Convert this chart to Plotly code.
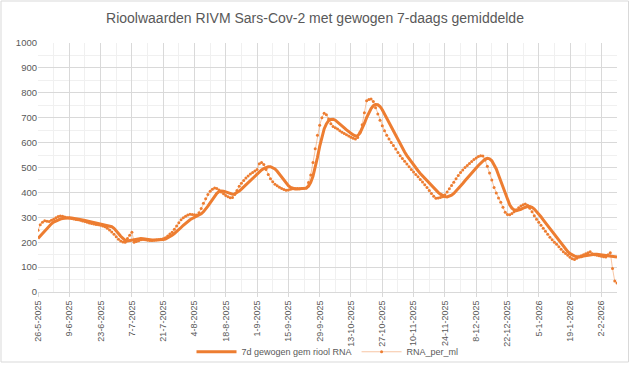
import datetime as dt
import plotly.graph_objects as go

start_date = "2025-05-26"

rna_per_ml = [
    248, 270, 280, 286, 284, 283, 288, 292, 298, 303, 305, 304, 301, 298, 297, 295, 293, 291, 290, 288,
    285, 283, 280, 277, 275, 273, 271, 270, 268, 265, 262, 256, 249, 241, 232, 222, 212, 205, 201, 200,
    215, 228, 240, 200, 203, 206, 210, 211, 210, 208, 207, 207, 208, 209, 210, 212, 214, 218, 225, 233,
    240, 252, 265, 278, 290, 298, 304, 309, 312, 311, 310, 309, 318, 335, 356, 375, 392, 405, 413, 418,
    416, 410, 402, 395, 388, 383, 379, 380, 392, 408, 425, 437, 448, 458, 466, 474, 480, 486, 492, 515,
    520, 512, 492, 472, 455, 443, 433, 427, 421, 416, 412, 409, 410, 413, 415, 416, 416, 415, 416, 417,
    418, 440, 470, 520, 575, 630, 670, 700, 718, 712, 695, 676, 665, 660, 655, 648, 642, 637, 632, 627,
    621, 617, 614, 620, 642, 672, 720, 768, 773, 775, 765, 740, 715, 690, 668, 648, 630, 614, 600, 588,
    574, 560, 547, 536, 525, 514, 503, 492, 482, 472, 463, 452, 442, 431, 420, 408, 396, 385, 377, 378,
    380, 383, 390, 402, 415, 428, 441, 455, 468, 480, 490, 500, 508, 516, 524, 532, 538, 544, 547, 546,
    530, 505, 478, 450, 420, 398, 378, 360, 340, 320, 311, 310, 315, 322, 330, 338, 345, 350, 353, 348,
    336, 322, 306, 292, 280, 268, 256, 244, 232, 220, 210, 200, 192, 182, 172, 162, 155, 148, 140, 134,
    131, 136, 141, 146, 150, 154, 158, 162, 154, 150, 148, 146, 144, 142, 141, 150, 158, 94, 44, 36,
]

gewogen_7d = [
    215, 225, 236, 247, 257, 266, 274, 281, 286, 290, 293, 295, 297, 298, 298, 297, 296, 295, 293, 291,
    289, 287, 285, 283, 281, 279, 277, 275, 273, 271, 270, 268, 266, 262, 256, 247, 235, 224, 214, 207,
    205, 207, 210, 212, 214, 215, 215, 214, 212, 210, 209, 209, 209, 209, 209, 210, 211, 213, 217, 222,
    228, 235, 242, 250, 259, 268, 276, 284, 290, 295, 299, 303, 308, 314, 322, 332, 345, 358, 372, 385,
    396, 403, 406, 405, 402, 398, 395, 393, 394, 398, 405, 413, 422, 431, 440, 449, 458, 467, 475, 483,
    490, 496, 500, 503, 503, 500, 494, 485, 473, 460, 447, 436, 427, 420, 416, 414, 414, 414, 414, 415,
    417, 425, 440, 465, 500, 540, 585, 625, 655, 675, 688, 693, 694, 690, 683, 675, 667, 659, 651, 644,
    637, 631, 627, 628, 638, 655, 677, 700, 720, 737, 748, 753, 752, 745, 732, 715, 697, 678, 660, 642,
    625, 608, 592, 577, 562, 548, 535, 522, 510, 498, 487, 476, 466, 456, 446, 436, 426, 417, 408, 400,
    393, 387, 383, 382, 384, 389, 396, 405, 415, 425, 436, 447, 458, 468, 478, 488, 498, 508, 518, 527,
    534, 537, 535, 527, 513, 494, 470, 445, 418, 392, 368, 350, 337, 330, 327, 328, 332, 337, 341, 343,
    343, 340, 333, 324, 313, 302, 290, 278, 266, 254, 242, 230, 218, 206, 194, 183, 172, 162, 154, 148,
    144, 142, 141, 142, 144, 146, 148, 150, 151, 152, 152, 151, 150, 149, 148, 147, 146, 144, 142, 140,
]

tick_dates = [
    "2025-05-26", "2025-06-09", "2025-06-23", "2025-07-07", "2025-07-21", "2025-08-04",
    "2025-08-18", "2025-09-01", "2025-09-15", "2025-09-29", "2025-10-13", "2025-10-27",
    "2025-11-10", "2025-11-24", "2025-12-08", "2025-12-22", "2026-01-05", "2026-01-19",
    "2026-02-02",
]
tick_labels = [
    "26-5-2025", "9-6-2025", "23-6-2025", "7-7-2025", "21-7-2025", "4-8-2025",
    "18-8-2025", "1-9-2025", "15-9-2025", "29-9-2025", "13-10-2025", "27-10-2025",
    "10-11-2025", "24-11-2025", "8-12-2025", "22-12-2025", "5-1-2026", "19-1-2026",
    "2-2-2026",
]

d0 = dt.date.fromisoformat(start_date)
dates = [d0 + dt.timedelta(days=i) for i in range(len(gewogen_7d))]

ORANGE = "#ED7D31"
TXT = "#595959"
FONT = "Liberation Sans"

fig = go.Figure()
fig.add_trace(go.Scatter(
    x=dates, y=gewogen_7d, mode="lines", name="7d gewogen gem riool RNA",
    line=dict(color=ORANGE, width=3), hoverinfo="x+y",
))
fig.add_trace(go.Scatter(
    x=dates, y=rna_per_ml, mode="lines+markers", name="RNA_per_ml",
    line=dict(color="rgba(237,125,49,0.55)", width=0.8),
    marker=dict(color=ORANGE, size=3),
))

fig.update_layout(
    width=630, height=365,
    margin=dict(l=38, r=13, t=43, b=73, autoexpand=False),
    paper_bgcolor="white", plot_bgcolor="white",
    font=dict(family=FONT, color=TXT, size=10),
    title=dict(text="Rioolwaarden RIVM Sars-Cov-2 met gewogen 7-daags gemiddelde",
               x=0.5, xanchor="center", y=0.95, yanchor="middle",
               font=dict(family=FONT, size=14, color=TXT)),
    showlegend=True,
    legend=dict(orientation="h", x=0.5, xanchor="center", y=-0.24, yanchor="middle",
                bgcolor="rgba(0,0,0,0)",
                font=dict(size=9, color=TXT), itemwidth=40, traceorder="normal"),
    xaxis=dict(
        type="date", automargin=False,
        range=[dates[0], dates[-1]],
        tickmode="array", tickvals=tick_dates, ticktext=tick_labels,
        tickangle=-90, tickfont=dict(size=9, color=TXT),
        showgrid=True, gridcolor="#D9D9D9", gridwidth=1,
        showline=True, linecolor="#D9D9D9", linewidth=1,
        ticks="outside", ticklen=4, tickcolor="#D9D9D9",
        minor=dict(dtick=7 * 86400000, tick0=start_date, showgrid=True,
                   gridcolor="#F0F0F0", gridwidth=1),
        zeroline=False, fixedrange=True,
    ),
    yaxis=dict(
        range=[0, 1000], dtick=100, tick0=0, automargin=False,
        tickfont=dict(size=9.5, color=TXT),
        showgrid=True, gridcolor="#D9D9D9", gridwidth=1,
        minor=dict(dtick=50, showgrid=True, gridcolor="#F0F0F0", gridwidth=1),
        zeroline=False, showline=False, ticks="", fixedrange=True,
    ),
)

# chart border (pixel -> paper coordinates)
pw, ph = 630 - 38 - 13, 365 - 43 - 73
def px_x(p):
    return (p - 38) / pw
def px_y(p):
    return (365 - 73 - p) / ph
fig.add_shape(type="rect", xref="paper", yref="paper",
              x0=px_x(1), x1=px_x(628.5), y0=px_y(362), y1=px_y(1),
              line=dict(color="#D9D9D9", width=1), fillcolor="rgba(0,0,0,0)")

fig.write_html("out.html", config={"displayModeBar": False},
               post_script="document.body.style.margin='0';")
